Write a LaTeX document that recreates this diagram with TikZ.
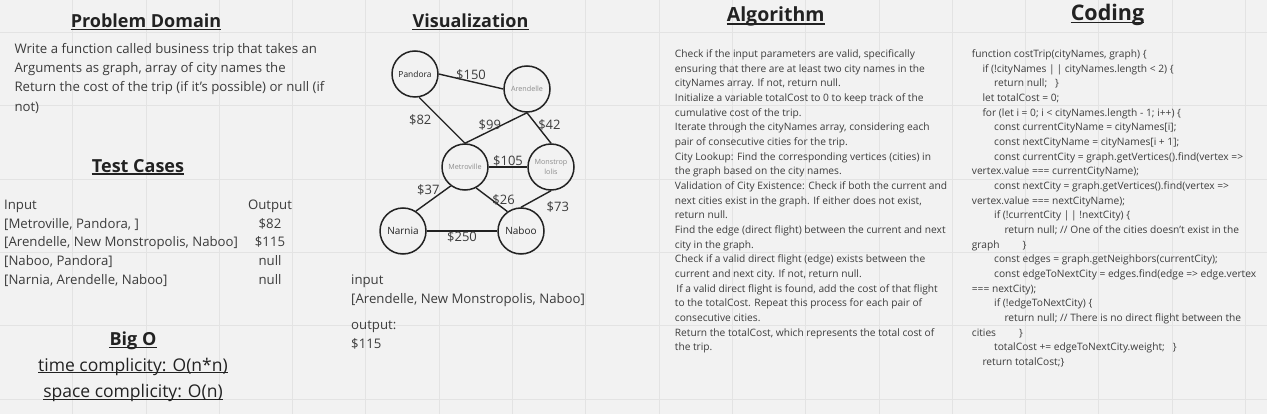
\documentclass[tikz,border=0pt]{standalone}
\usepackage{fontspec}
\setmainfont{Open Sans}
\definecolor{boardbg}{HTML}{F2F2F2}
\definecolor{boardgrid}{HTML}{E3E3E3}
\definecolor{ink}{HTML}{222222}
\definecolor{bodytext}{HTML}{3C3C3C}
\definecolor{faint}{HTML}{8C8C8C}
\newcommand{\bodyfont}{\fontsize{13.2}{19.2}\selectfont}
\newcommand{\smallfont}{\fontsize{10.2}{14.67}\selectfont}

\begin{document}
\begin{tikzpicture}[x=1pt,y=-1pt,
    gridline/.style={draw=boardgrid, line width=0.9pt},
    heading/.style={anchor=base, inner sep=0pt, text=ink, font=\fontsize{18}{18}\selectfont\bfseries},
    headrule/.style={draw=ink, line width=1.6pt},
    textblock/.style={anchor=north west, align=left, inner sep=0pt, text=bodytext},
    city/.style={circle, draw=ink, line width=1.5pt, minimum size=46pt, inner sep=0pt, align=center},
    road/.style={draw=ink, line width=1.4pt},
    cost/.style={inner sep=0pt, text=bodytext, font=\fontsize{13}{13}\selectfont}]
    \useasboundingbox (0,0) rectangle (1267,414);
    \fill[boardbg] (0,0) rectangle (1267,414);
    \foreach \gx in {0,...,16}
        \draw[gridline] ({72.7+73.3*\gx},0) -- ({72.7+73.3*\gx},414);
    \foreach \gy in {0,...,5}
        \draw[gridline] (0,{32.5+73.3*\gy}) -- (1267,{32.5+73.3*\gy});

    % headings
    \node[heading] at (146,27.7) (pdom) {Problem Domain};
    \node[heading] at (138,172.3) (tcase) {Test Cases};
    \node[heading] at (470.5,27.7) (vis) {Visualization};
    \node[heading, font=\fontsize{19.5}{19.5}\selectfont\bfseries] at (775.7,22) (algo) {Algorithm};
    \node[heading, font=\fontsize{21.5}{21.5}\selectfont\bfseries] at (1107.5,20.7) (code) {Coding};
    \node[heading] at (133,345.7) (bigo) {Big O};
    \node[heading, font=\fontsize{17.5}{17.5}\selectfont] at (133,371) (tcx) {time complicity: O(n*n)};
    \node[heading, font=\fontsize{17.5}{17.5}\selectfont] at (133,397.5) (scx) {space complicity: O(n)};
    \foreach \t in {pdom,tcase,vis,algo,code,bigo}
        \draw[headrule] ([yshift=-1.9pt]\t.base west) -- ([yshift=-1.9pt]\t.base east);
    \foreach \t in {tcx,scx}
        \draw[headrule, line width=1.1pt] ([yshift=-1.8pt]\t.base west) -- ([yshift=-1.8pt]\t.base east);

    % problem domain and test cases
    \node[textblock, font=\bodyfont] at (14.3,41.3) (pdtext) {\rule{0pt}{12pt}Write a function called business trip that takes an\\
        Arguments as graph, array of city names the\\
        Return the cost of the trip (if it’s possible) or null (if\\
        not)};
    \node[textblock, font=\fontsize{13.2}{18.8}\selectfont] at (4,197) (tcin) {\rule{0pt}{12pt}Input\\
        {[}Metroville, Pandora, ]\\
        {[}Arendelle, New Monstropolis, Naboo]\\
        {[}Naboo, Pandora]\\
        {[}Narnia, Arendelle, Naboo]};
    \node[textblock, anchor=north, align=center, font=\fontsize{13.2}{18.8}\selectfont] at (270,197) (tcout) {\rule{0pt}{12pt}Output\\ \$82\\ \$115\\ null\\ null};

    % graph
    \node[city, font=\fontsize{8.4}{8.4}\selectfont, text=ink] at (415,74) (pandora) {Pandora};
    \node[city, font=\fontsize{7.2}{7.2}\selectfont, text=faint] at (527,89) (arendelle) {Arendelle};
    \node[city, font=\fontsize{7.2}{7.2}\selectfont, text=faint] at (465,167) (metroville) {Metroville};
    \node[city, font=\fontsize{7.2}{9.7}\selectfont, text=faint] at (551,167) (monstrop) {Monstrop\\lolis};
    \node[city, font=\fontsize{10}{10}\selectfont, text=ink] at (403,231) (narnia) {Narnia};
    \node[city, font=\fontsize{10}{10}\selectfont, text=ink] at (521,231) (naboo) {Naboo};
    \path[road]
    (pandora.east) edge node[cost, above=1pt] {\$150} (arendelle.west)
    (pandora.-80) edge node[cost, left=10pt] {\$82} (metroville.north)
    (arendelle.south) edge node[cost, pos=0.6, above] {\$99} (metroville.north)
    (arendelle.south) edge node[cost, pos=0.4, right=1pt] {\$42} (monstrop.north)
    (metroville.east) edge node[cost, above] {\$105} (monstrop.west)
    (metroville.-127) edge node[cost, above=3pt, xshift=-5pt] {\$37} (narnia.57)
    (metroville.-62) edge node[cost, right] {\$26} (naboo.125)
    (monstrop.south) edge node[cost, below right, xshift=10pt, yshift=-2pt] {\$73} (naboo.north)
    (narnia.east) edge node[cost, below=0pt] {\$250} (naboo.west)
    ;
    \node[textblock, font=\fontsize{13.2}{18.5}\selectfont] at (351,272.5) (visin) {\rule{0pt}{12pt}input\\
        {[}Arendelle, New Monstropolis, Naboo]};
    \node[textblock, font=\fontsize{13.2}{18.5}\selectfont] at (351,317.5) (visout) {\rule{0pt}{12pt}output:\\ \$115};

    % algorithm
    \node[textblock, font=\smallfont] at (674.7,48.3) (algotext) {\rule{0pt}{9pt}Check if the input parameters are valid, specifically\\
        ensuring that there are at least two city names in the\\
        cityNames array. If not, return null.\\
        Initialize a variable totalCost to 0 to keep track of the\\
        cumulative cost of the trip.\\
        Iterate through the cityNames array, considering each\\
        pair of consecutive cities for the trip.\\
        City Lookup: Find the corresponding vertices (cities) in\\
        the graph based on the city names.\\
        Validation of City Existence: Check if both the current and\\
        next cities exist in the graph. If either does not exist,\\
        return null.\\
        Find the edge (direct flight) between the current and next\\
        city in the graph.\\
        Check if a valid direct flight (edge) exists between the\\
        current and next city. If not, return null.\\
        \hspace*{1.5pt}If a valid direct flight is found, add the cost of that flight\\
        to the totalCost. Repeat this process for each pair of\\
        consecutive cities.\\
        Return the totalCost, which represents the total cost of\\
        the trip.};

    % coding
    \node[textblock, font=\smallfont] at (971.7,48.3) (codetext) {\rule{0pt}{9pt}function costTrip(cityNames, graph) \{\\
        \hspace*{10.6pt}if (!cityNames |\,| cityNames.length < 2) \{\\
        \hspace*{22.3pt}return null;\hspace{8pt}\}\\
        \hspace*{10.6pt}let totalCost = 0;\\
        \hspace*{10.6pt}for (let i = 0; i < cityNames.length - 1; i++) \{\\
        \hspace*{22.3pt}const currentCityName = cityNames[i];\\
        \hspace*{22.3pt}const nextCityName = cityNames[i + 1];\\
        \hspace*{22.3pt}const currentCity = graph.getVertices().find(vertex =>\\
        vertex.value === currentCityName);\\
        \hspace*{22.3pt}const nextCity = graph.getVertices().find(vertex =>\\
        vertex.value === nextCityName);\\
        \hspace*{22.3pt}if (!currentCity |\,| !nextCity) \{\\
        \hspace*{32.6pt}return null; // One of the cities doesn't exist in the\\
        graph\hspace{23pt}\}\\
        \hspace*{22.3pt}const edges = graph.getNeighbors(currentCity);\\
        \hspace*{22.3pt}const edgeToNextCity = edges.find(edge => edge.vertex\\
        === nextCity);\\
        \hspace*{22.3pt}if (!edgeToNextCity) \{\\
        \hspace*{32.6pt}return null; // There is no direct flight between the\\
        cities\hspace{23pt}\}\\
        \hspace*{22.3pt}totalCost += edgeToNextCity.weight;\hspace{8pt}\}\\
        \hspace*{10.6pt}return totalCost;\}};
\end{tikzpicture}
\end{document}
